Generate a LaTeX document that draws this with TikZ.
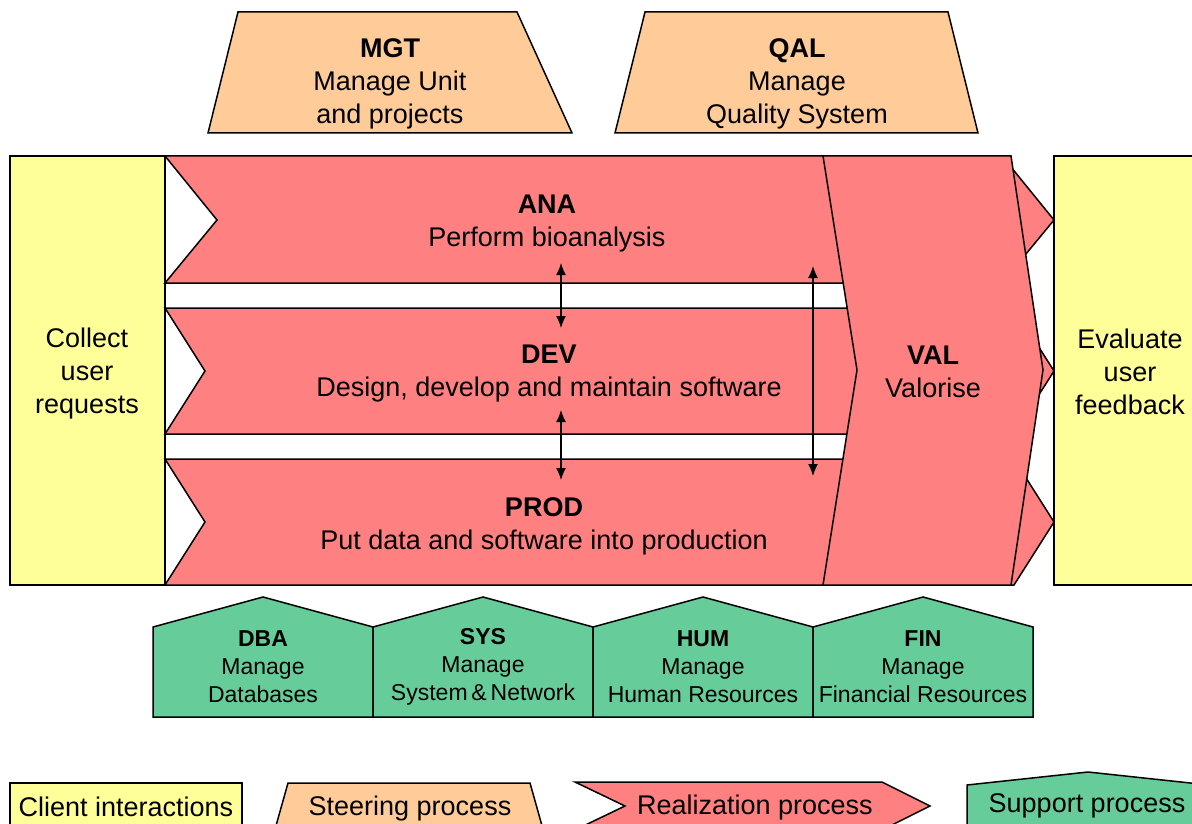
\documentclass[tikz,border=0pt]{standalone}
\usepackage{fontspec}
\setmainfont{Liberation Sans}
\usetikzlibrary{arrows.meta}
\definecolor{cyel}{RGB}{255,255,153}
\definecolor{cora}{RGB}{255,204,153}
\definecolor{cred}{RGB}{255,128,128}
\definecolor{cgrn}{RGB}{102,204,153}
\tikzset{
  shp/.style={draw=black,line width=1.5pt,line join=miter},
  big/.style={font=\fontsize{27}{33}\selectfont,align=center,inner sep=0pt},
  small/.style={font=\fontsize{23}{28}\selectfont,align=center,inner sep=0pt},
  dbl/.style={line width=1.5pt,{Latex[length=12pt,width=10pt]}-{Latex[length=12pt,width=10pt]}}
}
\begin{document}
\begin{tikzpicture}[x=1pt,y=-1pt]
\useasboundingbox (0,0) rectangle (1192,824);
% steering trapezoids
\filldraw[shp,fill=cora] (238,12) -- (517,12) -- (572,133) -- (208,133) -- cycle;
\filldraw[shp,fill=cora] (645,12) -- (948,12) -- (978,133) -- (615,133) -- cycle;
\node[big] (mgt) at (390,84) {\textbf{MGT}\\Manage Unit\\and projects};
\node[big] (qal) at (797,84) {\textbf{QAL}\\Manage\\Quality System};
% client boxes
\filldraw[shp,fill=cyel] (10,156) rectangle (165,585);
\filldraw[shp,fill=cyel] (1054,156) rectangle (1210,585);
\node[big] (collect) at (87,374) {Collect\\user\\requests};
\node[big] (evaluate) at (1130,372) {Evaluate\\user\\feedback};
% realization chevrons
\filldraw[shp,fill=cred] (165,156) -- (1002,156) -- (1054,220) -- (1002,283) -- (165,283) -- (217,220) -- cycle;
\filldraw[shp,fill=cred] (165,308) -- (1014,308) -- (1054,371) -- (1014,434) -- (165,434) -- (205,371) -- cycle;
\filldraw[shp,fill=cred] (165,459) -- (1014,459) -- (1054,522) -- (1014,585) -- (165,585) -- (205,522) -- cycle;
\filldraw[shp,fill=cred] (823,156) -- (1011,156) -- (1043,370) -- (1011,585) -- (823,585) -- (857,370) -- cycle;
\node[big] (ana) at (547,224) {\textbf{ANA}\\Perform bioanalysis};
\node[big] (dev) at (549,374) {\textbf{DEV}\\Design, develop and maintain software};
\node[big] (prod) at (544,526) {\textbf{PROD}\\Put data and software into production};
\node[big] (val) at (933,372) {\textbf{VAL}\\Valorise};
% double arrows
\coordinate (a1) at (561,263); \coordinate (a2) at (561,328);
\coordinate (b1) at (561,410); \coordinate (b2) at (561,480);
\coordinate (c1) at (813,266); \coordinate (c2) at (813,476);
\draw[dbl] (a1) -- (a2);
\draw[dbl] (b1) -- (b2);
\draw[dbl] (c1) -- (c2);
% support pentagons
\foreach \x/\n in {153/dba,373/sys,593/hum,813/fin}{
  \filldraw[shp,fill=cgrn] (\x,717) -- (\x,627) -- (\x+110,597) -- (\x+220,627) -- (\x+220,717) -- cycle;
}
\node[small] (dbat) at (263,667) {\textbf{DBA}\\Manage\\Databases};
\node[small] (syst) at (483,667) {\textbf{SYS}\\Manage\\System\,\&\,Network};
\node[small] (humt) at (703,667) {\textbf{HUM}\\Manage\\Human Resources};
\node[small] (fint) at (923,667) {\textbf{FIN}\\Manage\\Financial Resources};
% legend
\filldraw[shp,fill=cyel] (10,783) rectangle (242,840);
\filldraw[shp,fill=cora] (288,783) -- (530,783) -- (546,840) -- (272,840) -- cycle;
\filldraw[shp,fill=cred] (575,782) -- (882,782) -- (930,806) -- (882,830) -- (575,830) -- (625,806) -- cycle;
\filldraw[shp,fill=cgrn] (967,840) -- (967,785) -- (1088,772) -- (1209,785) -- (1209,840) -- cycle;
\node[big] (lc) at (126,807) {Client interactions};
\node[big] (ls) at (410,809) {Steering process};
\node[big] (lr) at (755,808) {Realization process};
\node[big] (lsp) at (1087,806) {Support process};
\end{tikzpicture}
\end{document}
